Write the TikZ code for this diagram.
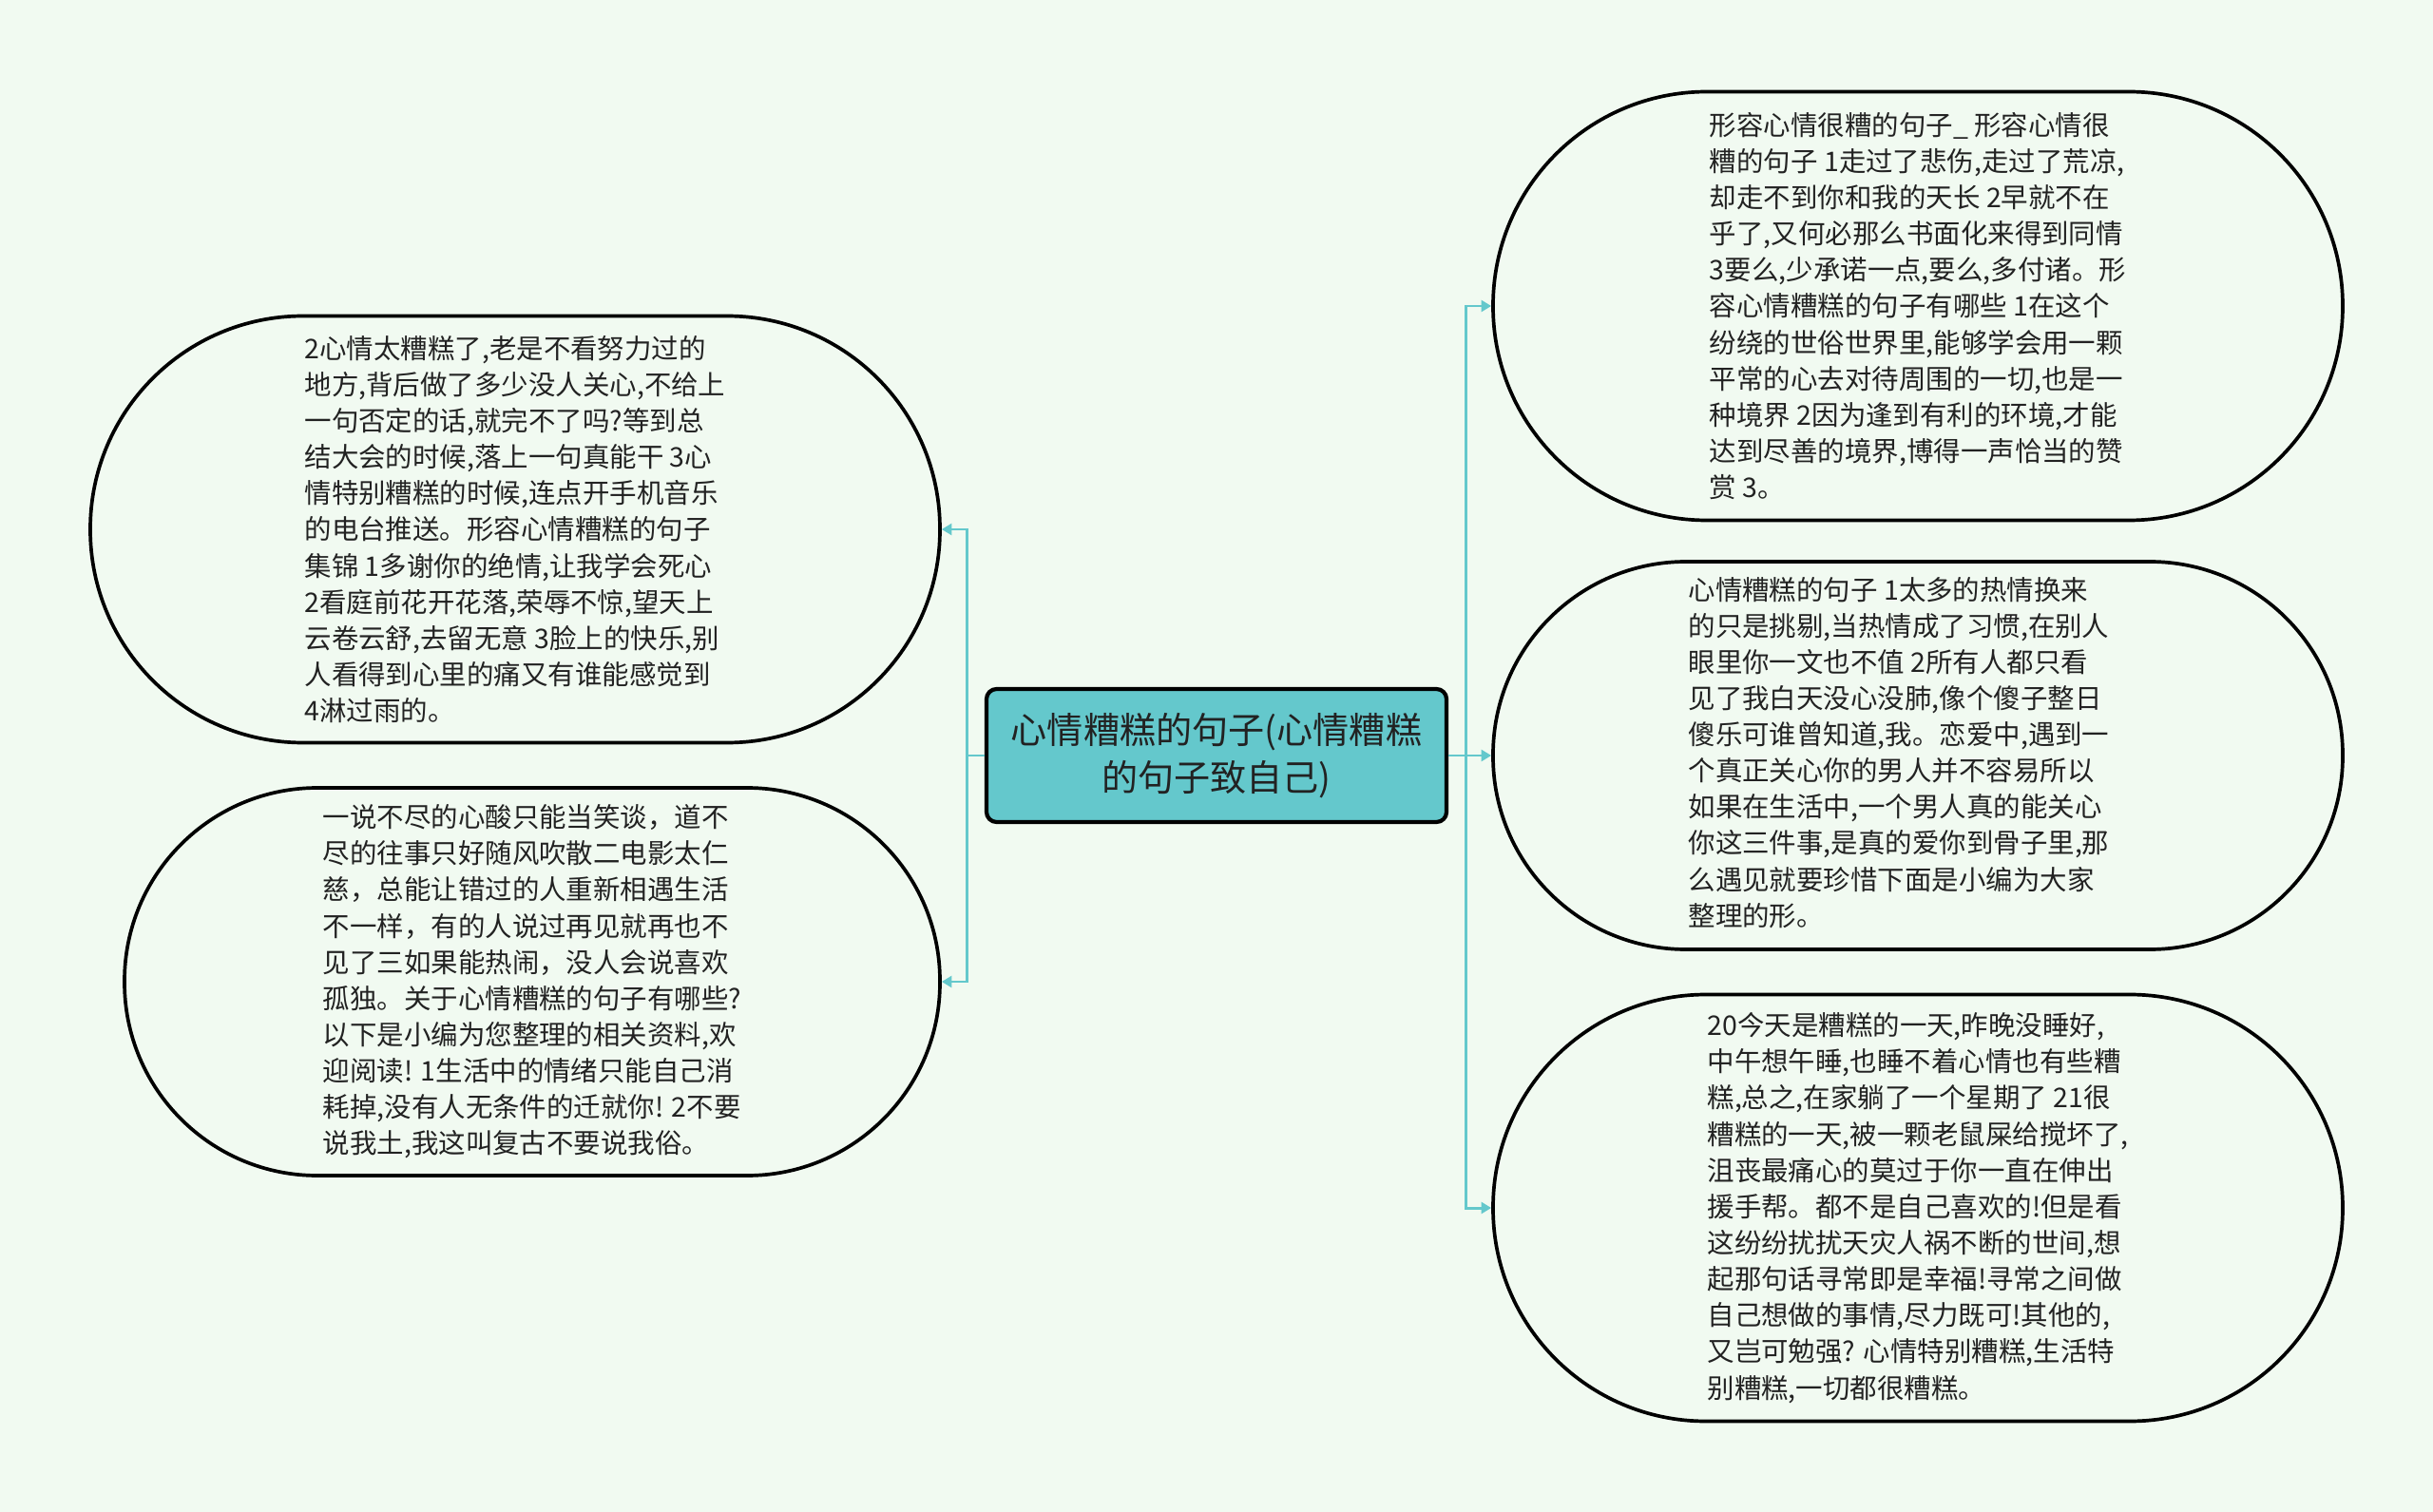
\documentclass[tikz,border=0pt]{standalone}
\usepackage{fontspec}
\setmainfont{Noto Sans CJK SC}
\usepackage{tikz}
\usetikzlibrary{arrows.meta}

\definecolor{paper}{RGB}{241,250,241}
\definecolor{teal}{RGB}{100,200,204}
\definecolor{ink}{RGB}{34,34,34}

\begin{document}
\begin{tikzpicture}[stadium/.style={draw=black, line width=1.05pt, fill=paper, text=ink, align=left, inner sep=0pt, minimum width=8.94cm, font=\fontsize{8.1pt}{10.85pt}\selectfont},
topic/.style={draw=black, line width=1.2pt, fill=teal, text=ink, rounded corners=3pt, align=center, minimum width=4.84cm, minimum height=1.4cm, inner sep=0pt, font=\fontsize{10.85pt}{14.3pt}\selectfont},
link/.style={draw=teal, line width=0.85pt, -{Triangle[length=3pt, width=3.4pt]}}]

% Background
\fill[paper] (0, 0) rectangle (25.6, -15.91);
\useasboundingbox (0, 0) rectangle (25.6, -15.91);

% Central topic
\node[topic] (root) at (12.80, -7.95) {心情糟糕的句子(心情糟糕\\的句子致自己)};

% Left branches
\node[stadium, minimum height=4.49cm, rounded corners=2.24cm] (lt) at (5.42, -5.57) {2心情太糟糕了,老是不看努力过的\\地方,背后做了多少没人关心,不给上\\一句否定的话,就完不了吗?等到总\\结大会的时候,落上一句真能干 3心\\情特别糟糕的时候,连点开手机音乐\\的电台推送。形容心情糟糕的句子\\集锦 1多谢你的绝情,让我学会死心\\2看庭前花开花落,荣辱不惊,望天上\\云卷云舒,去留无意 3脸上的快乐,别\\人看得到心里的痛又有谁能感觉到\\4淋过雨的。};
\node[stadium, minimum width=8.58cm, minimum height=4.08cm, rounded corners=2.03cm] (lb) at (5.60, -10.33) {一说不尽的心酸只能当笑谈，道不\\尽的往事只好随风吹散二电影太仁\\慈，总能让错过的人重新相遇生活\\不一样，有的人说过再见就再也不\\见了三如果能热闹，没人会说喜欢\\孤独。关于心情糟糕的句子有哪些?\\以下是小编为您整理的相关资料,欢\\迎阅读! 1生活中的情绪只能自己消\\耗掉,没有人无条件的迁就你! 2不要\\说我土,我这叫复古不要说我俗。};

% Right branches
\node[stadium, minimum height=4.51cm, rounded corners=2.25cm] (rt) at (20.18, -3.22) {形容心情很糟的句子\_ 形容心情很\\糟的句子 1走过了悲伤,走过了荒凉,\\却走不到你和我的天长 2早就不在\\乎了,又何必那么书面化来得到同情\\3要么,少承诺一点,要么,多付诸。形\\容心情糟糕的句子有哪些 1在这个\\纷绕的世俗世界里,能够学会用一颗\\平常的心去对待周围的一切,也是一\\种境界 2因为逢到有利的环境,才能\\达到尽善的境界,博得一声恰当的赞\\赏 3。};
\node[stadium, align=none, minimum height=4.08cm, rounded corners=2.03cm] (rm) at (20.18, -7.95) {\begin{tabular}{@{}l@{\hspace{0.4cm}}}心情糟糕的句子 1太多的热情换来\\的只是挑剔,当热情成了习惯,在别人\\眼里你一文也不值 2所有人都只看\\见了我白天没心没肺,像个傻子整日\\傻乐可谁曾知道,我。恋爱中,遇到一\\个真正关心你的男人并不容易所以\\如果在生活中,一个男人真的能关心\\你这三件事,是真的爱你到骨子里,那\\么遇见就要珍惜下面是小编为大家\\整理的形。\end{tabular}};
\node[stadium, minimum height=4.49cm, rounded corners=2.24cm] (rb) at (20.18, -12.71) {20今天是糟糕的一天,昨晚没睡好,\\中午想午睡,也睡不着心情也有些糟\\糕,总之,在家躺了一个星期了 21很\\糟糕的一天,被一颗老鼠屎给搅坏了,\\沮丧最痛心的莫过于你一直在伸出\\援手帮。都不是自己喜欢的!但是看\\这纷纷扰扰天灾人祸不断的世间,想\\起那句话寻常即是幸福!寻常之间做\\自己想做的事情,尽力既可!其他的,\\又岂可勉强? 心情特别糟糕,生活特\\别糟糕,一切都很糟糕。};

% Connectors
\draw[link] (root.west) -- ++(-0.18, 0) |- (lt.east);
\draw[link] (root.west) -- ++(-0.18, 0) |- (lb.east);
\draw[link] (root.east) -- ++(0.18, 0) |- (rt.west);
\draw[link] (root.east) -- (rm.west);
\draw[link] (root.east) -- ++(0.18, 0) |- (rb.west);
\end{tikzpicture}
\end{document}
